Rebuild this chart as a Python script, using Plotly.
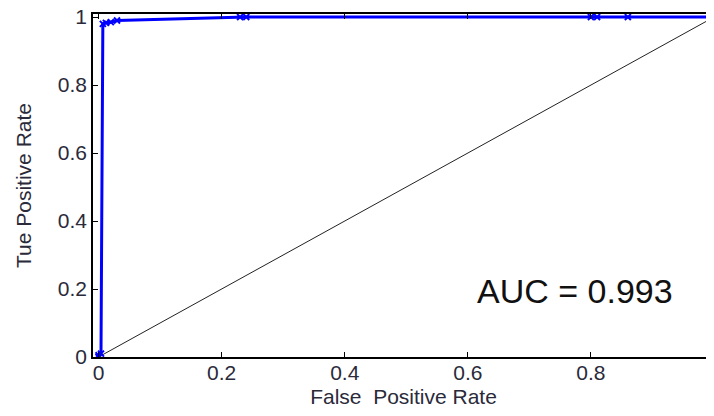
import plotly.graph_objects as go

fpr = [0.0, 0.0, 0.004, 0.007, 0.012, 0.02, 0.03, 0.23, 0.24, 0.80, 0.81, 0.86, 1.0]
tpr = [0.0, 0.005, 0.01, 0.98, 0.983, 0.985, 0.99, 1.0, 1.0, 1.0, 1.0, 1.0, 1.0]
diag_x = [0.0, 1.0]
diag_y = [0.0, 1.0]
x_ticks = [0, 0.2, 0.4, 0.6, 0.8, 1]
x_labels = ["0", "0.2", "0.4", "0.6", "0.8", "1"]
y_ticks = [0, 0.2, 0.4, 0.6, 0.8, 1]
y_labels = ["0", "0.2", "0.4", "0.6", "0.8", "1"]
auc_text = "AUC = 0.993"

fig = go.Figure()
fig.add_trace(go.Scatter(x=diag_x, y=diag_y, mode="lines",
                         line=dict(color="#222222", width=1), showlegend=False))
fig.add_trace(go.Scatter(x=fpr, y=tpr, mode="lines+markers",
                         line=dict(color="#0000ff", width=3),
                         marker=dict(symbol="x-thin", size=6, color="#0000ff",
                                     line=dict(color="#0000ff", width=2)),
                         showlegend=False))

fig.add_annotation(x=0.937, y=0.194, xref="x", yref="y", text=auc_text,
                   showarrow=False, xanchor="right", yanchor="middle",
                   font=dict(family="Liberation Sans, Arial", size=34, color="#111111"))

tickfont = dict(family="Liberation Sans, Arial", size=21, color="#2a2a3a")
titlefont = dict(family="Liberation Sans, Arial", size=21, color="#2a2a3a")
fig.update_layout(
    width=706, height=400,
    margin=dict(l=85, r=0, t=6, b=51),
    paper_bgcolor="white", plot_bgcolor="white",
    xaxis=dict(range=[-0.009, 1.0], tickvals=x_ticks, ticktext=x_labels,
               ticks="inside", ticklen=5, tickcolor="black", mirror="ticks",
               showline=True, linecolor="black", linewidth=1.5,
               showgrid=False, zeroline=False, tickfont=tickfont, automargin=False,
               ticklabeloverflow="allow", ticklabelstandoff=-4,
               title=dict(text="False  Positive Rate", standoff=10, font=titlefont)),
    yaxis=dict(range=[0, 1.009], tickvals=y_ticks, ticktext=y_labels,
               ticks="inside", ticklen=5, tickcolor="black",
               showline=True, linecolor="black", linewidth=1.5,
               showgrid=False, zeroline=False, tickfont=tickfont, automargin=False,
               ticklabeloverflow="allow",
               title=dict(text="Tue Positive Rate", standoff=20, font=titlefont)),
)
fig.write_html("out.html")
